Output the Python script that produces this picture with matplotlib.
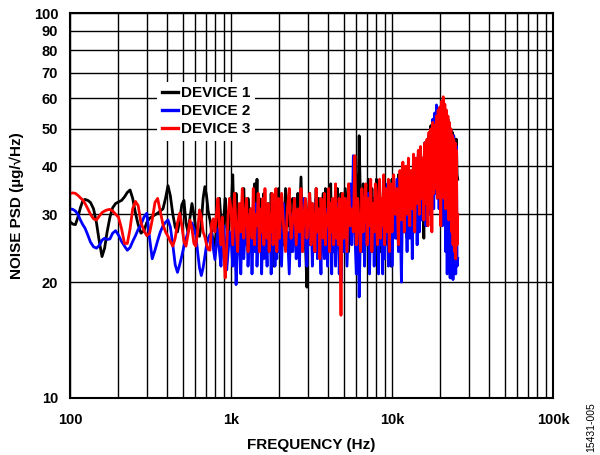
import matplotlib
matplotlib.use('Agg')
import matplotlib.pyplot as plt
from matplotlib.ticker import FixedLocator, FixedFormatter, NullFormatter

plt.rcParams['font.family'] = ['Liberation Sans', 'DejaVu Sans']
plt.rcParams['font.weight'] = 'bold'

# frequency points (Hz): smooth low part, then the dense noisy band
freq_low = [100, 104, 108, 112, 116, 120, 124, 129, 134, 140,
            146, 152, 158, 164, 170, 177, 184, 192, 200, 209,
            218, 227, 236, 245, 255, 265, 276, 288, 300, 312,
            324, 337, 350, 364, 378, 392, 406, 420, 435, 450,
            465, 480, 495, 510, 525, 540, 556, 572, 588, 604,
            620, 637, 654, 671, 688, 705, 722, 740, 758, 776,
            794, 812, 830, 848, 866, 884, 902, 920, 940, 960,
            980]
freq_band = [1000, 1025, 1050, 1075, 1100, 1125, 1150, 1175, 1200, 1225,
             1250, 1275, 1300, 1325, 1350, 1375, 1400, 1425, 1450, 1475,
             1500, 1525, 1550, 1575, 1600, 1625, 1650, 1675, 1700, 1725,
             1750, 1775, 1800, 1825, 1850, 1875, 1900, 1925, 1950, 1975,
             2000, 2060, 2120, 2180, 2240, 2300, 2360, 2420, 2480, 2540,
             2600, 2660, 2720, 2780, 2840, 2900, 2960, 3020, 3080, 3140,
             3200, 3260, 3320, 3380, 3440, 3500, 3560, 3620, 3680, 3740,
             3800, 3860, 3920, 3980, 4040, 4100, 4160, 4220, 4280, 4340,
             4400, 4460, 4520, 4580, 4640, 4700, 4760, 4820, 4880, 4940,
             5000, 5125, 5250, 5375, 5500, 5625, 5750, 5875, 6000, 6125,
             6250, 6375, 6500, 6625, 6750, 6875, 7000, 7125, 7250, 7375,
             7500, 7625, 7750, 7875, 8000, 8125, 8250, 8375, 8500, 8625,
             8750, 8875, 9000, 9125, 9250, 9375, 9500, 9625, 9750, 9875,
             10000, 10240, 10480, 10720, 10960, 11200, 11440, 11680, 11920, 12160,
             12400, 12640, 12880, 13120, 13360, 13600, 13840, 14080, 14320, 14560,
             14800, 15040, 15280, 15520, 15760, 16000, 16240, 16480, 16720, 16960,
             17200, 17440, 17680, 17920, 18160, 18400, 18640, 18880, 19120, 19360,
             19600, 19840, 20080, 20320, 20560, 20800, 21040, 21280, 21520, 21760,
             22000, 22240, 22480, 22720, 22960, 23200, 23440, 23680, 23920, 24160,
             24400, 24640, 24880, 25120, 25360, 25600]

# noise PSD (ug/rtHz)
dev1_low = [28.7, 28.3, 28.2, 29.5, 31.2, 32.5, 32.8, 32.6, 32.2, 31.0,
            28.5, 25.5, 23.3, 24.5, 27.0, 29.5, 31.2, 32.0, 32.3, 32.6,
            33.3, 34.2, 34.7, 33.0, 30.2, 28.2, 26.8, 27.2, 28.6, 29.3,
            29.6, 29.9, 30.2, 30.6, 31.0, 33.0, 35.6, 33.5, 30.0, 27.8,
            27.0, 29.0, 31.8, 32.6, 28.5, 27.0, 29.5, 32.0, 30.0, 27.5,
            26.8, 26.3, 28.5, 33.0, 35.4, 33.5, 30.5, 29.0, 27.0, 25.5,
            24.8, 27.5, 31.0, 33.0, 29.0, 26.0, 29.5, 33.0, 28.0, 25.5,
            30.0]
dev1_band = [30, 38, 26, 34, 29, 24, 32, 27, 35, 28,
             25, 33, 29, 31, 24, 30, 36, 28, 37, 26,
             33, 28, 31, 25, 34, 27, 30, 24, 32, 29,
             27, 34, 25, 31, 22, 28, 33, 26, 30, 35,
             27, 32, 25, 35, 28, 30, 24, 33, 29, 26,
             34, 28, 37.5, 27, 31, 25, 19.4, 30, 34, 27,
             32, 25, 29, 35, 26, 33, 28, 24, 31, 34,
             27, 35, 30, 25, 33, 28, 36, 26, 31, 29,
             24, 33, 29, 35, 27, 31, 25, 34, 28, 32,
             26, 35, 29, 24, 33, 28, 36, 30, 38, 27,
             48, 31, 25, 36, 29, 34, 27, 37, 30, 25,
             35, 28, 33, 26, 37, 30, 27, 36, 24, 33,
             29, 37, 26, 34, 31, 25, 36, 28, 33, 22,
             37, 28, 34, 26, 38, 30, 36, 27, 39, 31,
             26, 40, 29, 37, 31, 41, 27, 39, 32, 42,
             29, 44, 33, 40, 26, 46, 35, 43, 36, 48,
             34, 51, 38, 47, 36, 53, 40, 55, 38, 52,
             41, 56, 39, 57, 43, 54, 40, 56, 38, 55,
             40, 53, 39, 51, 42, 50, 38, 49, 37, 48,
             38, 47, 40, 47, 38, 37]

dev2_low = [31.0, 30.9, 30.6, 30.0, 29.0, 28.2, 27.6, 26.5, 25.4, 24.7,
            24.5, 24.9, 25.7, 26.0, 25.8, 25.9, 26.8, 27.2, 26.5, 25.5,
            24.8, 24.2, 24.6, 25.5, 26.4, 27.4, 28.2, 29.5, 30.2, 26.0,
            23.0, 24.2, 25.6, 27.0, 28.0, 28.6, 29.0, 27.8, 25.0, 22.2,
            21.2, 22.2, 23.4, 24.8, 25.9, 27.0, 28.0, 28.5, 27.6, 26.6,
            24.0, 21.8, 20.8, 21.8, 23.3, 25.0, 26.0, 26.6, 26.8, 24.5,
            22.9, 25.0, 27.5, 24.0, 22.0, 25.5, 28.0, 24.5, 21.5, 24.0,
            27.0]
dev2_band = [26, 22, 29, 19.7, 25, 28, 21, 30, 23, 27,
             31, 22, 26, 29, 21, 28, 24, 32, 22, 27,
             25, 30, 21, 28, 23, 31, 26, 22, 29, 24,
             30, 21, 27, 25, 32, 22, 28, 23, 31, 24,
             29, 22, 32, 25, 27, 21, 30, 24, 33, 23,
             28, 22, 31, 24, 33, 26, 22, 29, 25, 31,
             22, 28, 24, 33, 23, 30, 26, 21, 29, 32,
             23, 31, 25, 22, 29, 27, 32, 21, 28, 24,
             30, 22, 27, 25, 32, 21, 29, 20, 26, 30,
             24, 33, 22, 29, 36, 25, 42.6, 27, 21, 31,
             18.3, 28, 24, 33, 22, 30, 26, 34, 21, 29,
             24, 32, 22, 35, 26, 29, 21, 33, 25, 30,
             21, 34, 23, 31, 26, 36, 22, 30, 24, 33,
             22, 35, 26, 37, 24, 33, 20, 38, 27, 36,
             24, 40, 26, 38, 23, 41, 28, 39, 25, 43,
             27, 44, 29, 42, 30, 46, 28, 45, 31, 48,
             30, 50, 33, 53, 31, 55, 34, 57.7, 33, 56,
             31, 57, 34, 55, 28, 53, 30, 50, 24, 49,
             21, 48, 22, 47, 20.5, 46, 23, 47, 20.3, 48,
             22, 46, 21, 45, 22, 23]

dev3_low = [34.0, 34.1, 34.0, 33.6, 33.1, 32.7, 32.0, 31.0, 30.0, 29.2,
            29.0, 29.7, 30.3, 30.6, 30.8, 30.9, 30.6, 30.0, 29.5, 27.5,
            25.2, 25.2, 27.5, 31.0, 32.4, 31.6, 28.5, 27.2, 26.4, 26.8,
            29.0, 32.2, 33.0, 30.5, 28.2, 27.0, 26.3, 25.5, 24.8, 26.0,
            28.5, 30.2, 28.0, 25.5, 24.8, 26.5, 29.0, 27.5, 25.2, 24.8,
            27.0, 30.8, 29.5, 27.0, 26.2, 25.0, 24.3, 24.2, 28.5, 29.2,
            27.0, 30.0, 33.0, 28.0, 25.0, 29.5, 24.0, 20.5, 24.5, 30.0,
            33.0]
dev3_band = [31, 25, 34, 28, 24, 32, 27, 35, 26, 30,
             33, 24, 29, 31, 26, 35, 25, 30, 28, 34,
             24, 31, 27, 33, 25, 35, 28, 26, 32, 24,
             30, 27, 34, 25, 31, 28, 35, 24, 29, 33,
             26, 34, 28, 24, 31, 35, 26, 29, 33, 25,
             31, 27, 35, 24, 30, 33, 26, 29, 34, 25,
             32, 28, 24, 35, 27, 31, 23, 33, 29, 26,
             34, 25, 30, 28, 35, 24, 32, 27, 33, 25,
             29, 36, 26, 31, 25, 33, 27, 16.4, 30, 34,
             26, 33, 24, 36, 28, 31, 27, 42.6, 25, 33,
             28, 24, 35, 27, 31, 36, 25, 33, 28, 37,
             24, 32, 27, 36, 29, 25, 34, 37, 26, 33,
             28, 38, 25, 35, 30, 27, 37, 24, 34, 36,
             27, 38, 30, 35, 25, 39, 29, 41, 27, 40,
             30, 42, 28, 39, 31, 43, 27, 42, 32, 44,
             30, 45, 33, 42, 29, 46, 32, 47, 28, 49,
             31, 50, 27, 52, 34, 51, 35, 54, 33, 56,
             36, 57, 28, 59, 35, 60.6, 33, 58, 31, 56,
             32, 54, 29, 52, 31, 50, 27, 48, 25, 47,
             24, 46, 23, 44, 25, 30]

labels = ['DEVICE 1', 'DEVICE 2', 'DEVICE 3']
colors = ['#000000', '#0000ff', '#ff0000']

freq = freq_low + freq_band
devices = [dev1_low + dev1_band, dev2_low + dev2_band, dev3_low + dev3_band]

fig = plt.figure(figsize=(6, 4.55), dpi=100)
ax = fig.add_axes([0.1167, 0.1253, 0.805, 0.8461])

for vals, lab, col in zip(devices, labels, colors):
    ax.plot(freq, vals, color=col, lw=2.0, label=lab, solid_joinstyle='round')

ax.set_xscale('log')
ax.set_yscale('log')
ax.set_xlim(100, 100000)
ax.set_ylim(10, 100)

ax.xaxis.set_major_locator(FixedLocator([100, 1000, 10000, 100000]))
ax.xaxis.set_major_formatter(FixedFormatter(['100', '1k', '10k', '100k']))
ax.xaxis.set_minor_locator(FixedLocator([m * 10 ** k for k in (2, 3, 4) for m in range(2, 10)]))
ax.xaxis.set_minor_formatter(NullFormatter())

yt = [10, 20, 30, 40, 50, 60, 70, 80, 90, 100]
ax.yaxis.set_major_locator(FixedLocator(yt))
ax.yaxis.set_major_formatter(FixedFormatter([str(v) for v in yt]))
ax.yaxis.set_minor_formatter(NullFormatter())
ax.yaxis.set_minor_locator(FixedLocator([]))

ax.grid(True, which='both', color='black', lw=1.0)
ax.set_axisbelow(True)
ax.tick_params(axis='both', which='both', length=0, labelsize=10.5)
ax.tick_params(axis='x', pad=11)
ax.tick_params(axis='y', pad=8.5)
for s in ax.spines.values():
    s.set_linewidth(1.5)

ax.set_xlabel('FREQUENCY (Hz)', fontsize=11, fontweight='bold', labelpad=8)
ax.set_ylabel('NOISE PSD (µg/√Hz)', fontsize=11, fontweight='bold', labelpad=7)

leg = ax.legend(loc='upper left', bbox_to_anchor=(0.18, 0.822), frameon=True,
                fancybox=False, framealpha=1, edgecolor='none', facecolor='white',
                handlelength=1.1, handletextpad=0.2, labelspacing=0.26,
                borderpad=0.3, borderaxespad=0, prop={'size': 11, 'weight': 'bold'})
for h in leg.get_lines():
    h.set_linewidth(2.4)

fig.text(0.985, 0.007, '15431-005', rotation=90, fontsize=7.5, fontweight='normal',
         ha='center', va='bottom')

fig.savefig('out.png', dpi=100)
